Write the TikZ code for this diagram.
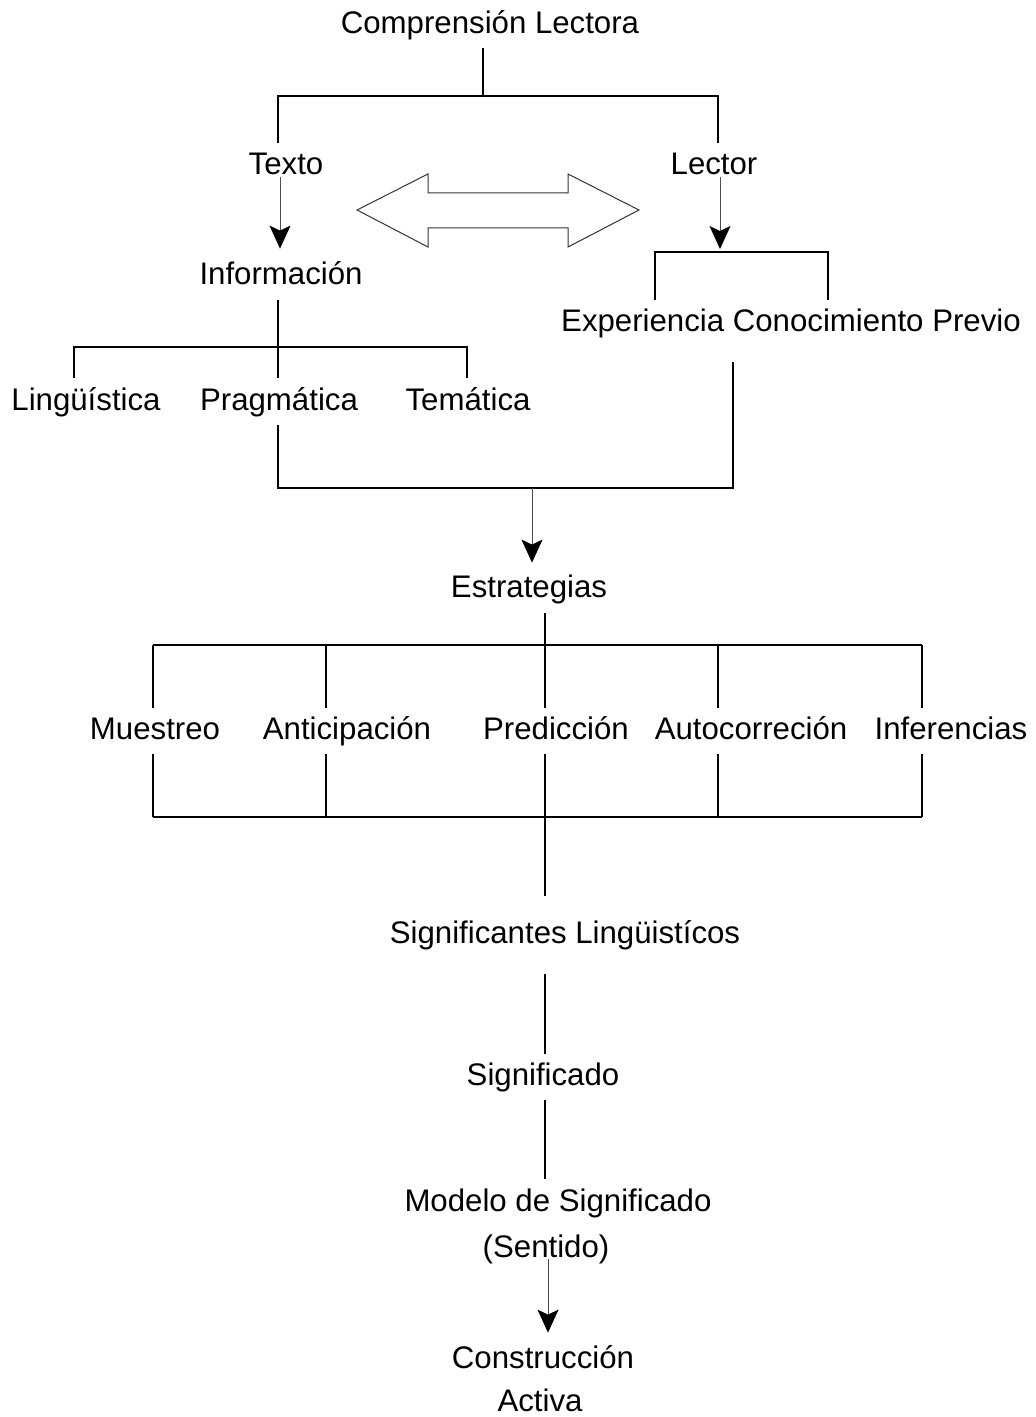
\documentclass[tikz,border=0pt]{standalone}
\usepackage{fontspec}
\setmainfont{Liberation Sans}
\usetikzlibrary{arrows.meta}

\tikzset{
	txt/.style = {font=\fontsize{15.6}{23.5}\selectfont, inner sep=0pt, text height=12.3pt, text depth=3.3pt},
	bar/.style = {line width=1.25pt, line join=miter},
	arr/.style = {line width=0.5pt, draw=black!70, -{Stealth[length=11.5pt, width=10.5pt, inset=2.5pt, black]}},
	dpfeil/.style = {line width=0.5pt, draw=black!80, line join=miter}
}

\begin{document}
\begin{tikzpicture}[x=0.5pt, y=-0.5pt]
%
\useasboundingbox (0,0) rectangle (1036,1417);

%Koordinaten
\def \ys {730}   % Zeile der Strategien
\def \yo {645}   % oberer Balken
\def \yu {817}   % unterer Balken

\coordinate (xa) at (278,0);
\coordinate (xb) at (718,0);
\coordinate (xc) at (280,0);
\coordinate (xd) at (720,0);
\coordinate (xm) at (545,0);
\coordinate (xn) at (548,0);

\coordinate (k1) at (483,96);
\coordinate (k2) at (655,252);
\coordinate (k3) at (828,252);
\coordinate (k4) at (74,347);
\coordinate (k5) at (532,488);
\coordinate (k6) at (467,347);
\coordinate (k7) at (733,488);

%Knoten
\node [txt] (cl)  at (490,25)  {Comprensión Lectora};
\node [txt] (tx)  at (286,166) {Texto};
\node [txt] (lc)  at (714,166) {Lector};
\node [txt] (inf) at (281,276) {Información};
\node [txt] (exp) at (791,322) {Experiencia Conocimiento Previo};
\node [txt] (lin) at (86,401)  {Lingüística};
\node [txt] (pra) at (279,401) {Pragmática};
\node [txt] (tem) at (468,401) {Temática};
\node [txt] (est) at (529,588) {Estrategias};

\foreach \n/\x/\xx/\s in {mue/155/153/Muestreo, ant/347/326/Anticipación, pre/556/545/Predicción, aut/751/718/Autocorreción, inc/951/922/Inferencias}{
	\node [txt] (\n) at (\x,\ys) {\s};
	\coordinate (o\n) at (\xx,\yo);
	\coordinate (u\n) at (\xx,\yu);
	\draw [bar, shorten >=3.2pt] (o\n) -- (o\n |- \n.north);
	\draw [bar, shorten >=4.2pt] (u\n) -- (u\n |- \n.south);
}

\node [txt] (sl)  at (565,934)  {Significantes Lingüistícos};
\node [txt] (sig) at (543,1076) {Significado};
\node [txt] (mod) at (558,1202) {Modelo de Significado};
\node [txt] (sen) at (546,1248) {(Sentido)};
\node [txt] (con) at (543,1359) {Construcción};
\node [txt] (act) at (540,1402) {Activa};

%Verbindungen
	\draw [bar, shorten <=3.7pt] (cl.south -| k1) -- (k1);
	\draw [bar, shorten <=3.7pt, shorten >=3.7pt] (tx.north -| xa) |- (k1) -| (lc.north -| xb);

	\draw [arr, shorten <=-2.3pt, shorten >=5.7pt] (tx.south -| xc) -- (inf.north -| xc);
	\draw [arr, shorten <=-2.3pt, shorten >=1.5pt] (lc.south -| xd) -- (xd |- k2);

	\draw [bar, shorten <=3.2pt, shorten >=3.2pt] (exp.north -| k2) -- (k2) -- (k3) -- (exp.north -| k3);

	\draw [bar, shorten <=3.8pt, shorten >=3.5pt] (inf.south -| xa) -- (pra.north -| xa);
	\draw [bar, shorten <=3.5pt, shorten >=3.5pt] (lin.north -| k4) |- (k6) -- (tem.north -| k6);

	\draw [bar, shorten <=4.2pt, shorten >=12pt] (pra.south -| xa) |- (k7) -- (exp.south -| k7);
	\draw [arr, shorten >=4.7pt] (k5) -- (est.north -| k5);

	\draw [bar, shorten <=4.7pt] (est.south -| xm) -- (xm |- opre);
	\draw [bar] (omue) -- (oinc);
	\draw [bar] (umue) -- (uinc);
	\draw [bar, shorten >=10.8pt] (upre) -- (sl.north -| upre);

	\draw [bar, shorten <=12.2pt, shorten >=3.2pt] (sl.south -| xm) -- (sig.north -| xm);
	\draw [bar, shorten <=4.2pt, shorten >=3.7pt] (sig.south -| xm) -- (mod.north -| xm);
	\draw [arr, shorten <=-2.3pt, shorten >=5.2pt] (sen.south -| xn) -- (con.north -| xn);

%Doppelpfeil
	\draw [dpfeil] (357,210) -- (428,174) -- (428,193) -- (568,193) -- (568,174) -- (639,210)
		-- (568,247) -- (568,228) -- (428,228) -- (428,247) -- cycle;

\end{tikzpicture}
\end{document}
